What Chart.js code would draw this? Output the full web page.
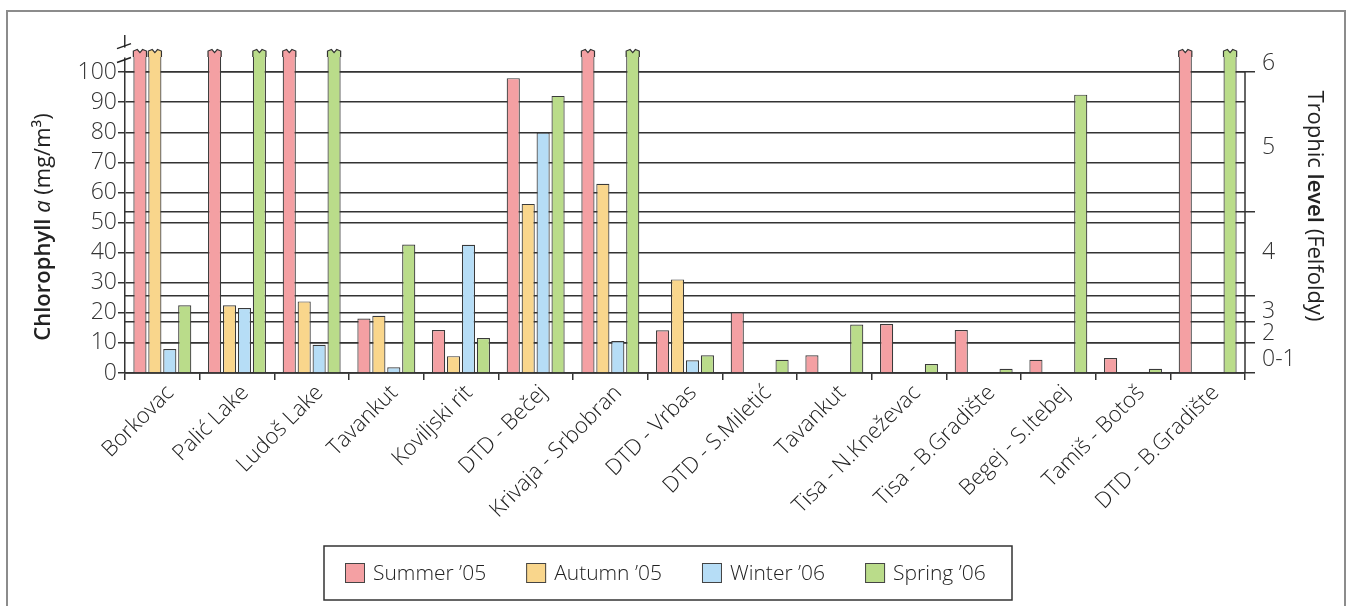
<!DOCTYPE html>
<html>
<head>
<meta charset="utf-8">
<script src="https://cdn.jsdelivr.net/npm/chart.js@4"></script>
<style>
  html, body { margin: 0; padding: 0; background: #fff; }
  #wrap { width: 1348px; height: 606px; position: relative; }
</style>
</head>
<body>
<div id="wrap"><canvas id="chartChl"></canvas></div>
<script>
// off-scale bars (drawn broken at the top)
const BRK = 107;

const sites = ['Borkovac', 'Palić Lake', 'Ludoš Lake', 'Tavankut', 'Koviljski rit', 'DTD - Bečej',
  'Krivaja - Srbobran', 'DTD - Vrbas', 'DTD - S.Miletić', 'Tavankut', 'Tisa - N.Kneževac',
  'Tisa - B.Gradište', 'Begej - S.Itebej', 'Tamiš - Botoš', 'DTD - B.Gradište'];

const summer05 = [BRK, BRK, BRK, 18.1, 14.3, 98.0, BRK, 14.2, 20.2, 5.9, 16.3, 14.3, 4.4, 5.0, BRK];
const autumn05 = [BRK, 22.5, 23.8, 19.0, 5.6, 56.2, 62.9, 31.1, null, null, null, null, null, null, null];
const winter06 = [8.0, 21.6, 9.4, 1.9, 42.6, 79.9, 10.6, 4.2, null, null, null, null, null, null, null];
const spring06 = [22.5, BRK, BRK, 42.7, 11.6, 92.1, BRK, 5.9, 4.4, 16.1, 3.0, 1.4, 92.5, 1.4, BRK];

const chlTicks = [0, 10, 20, 30, 40, 50, 60, 70, 80, 90, 100];
// trophic level boundaries (in chlorophyll units) and their labels
const trophicBounds = [0, 10, 17, 25.8, 53.7, 100];
const trophicLabels = ['0-1', '2', '3', '4', '5', '6'];
const trophicLabelAt = [4.6, 13.3, 20.5, 40, 75, 103];

const FONT = "'Open Sans', 'Noto Sans', sans-serif";
const INK = '#333';

function drawRich(ctx, parts, cx, cy, angle){
  ctx.save();
  ctx.translate(cx, cy);
  ctx.rotate(angle);
  ctx.textBaseline = 'middle';
  ctx.textAlign = 'left';
  let total = 0;
  parts.forEach(p => { ctx.font = p.f; p.w = ctx.measureText(p.t).width; total += p.w; });
  let x = -total / 2;
  parts.forEach(p => { ctx.font = p.f; ctx.fillStyle = '#222'; ctx.fillText(p.t, x, 0); x += p.w; });
  ctx.restore();
}

function zigzagPath(ctx, L, R, t){
  ctx.beginPath();
  ctx.moveTo(L, t + 6);
  ctx.lineTo(L, t);
  ctx.lineTo(L + (R - L) * 0.3, t - 1.5);
  ctx.lineTo(L + (R - L) * 0.5, t + 1.5);
  ctx.lineTo(L + (R - L) * 0.7, t - 1.5);
  ctx.lineTo(R, t);
  ctx.lineTo(R, t + 6);
}

const decor = {
  id: 'decor',
  afterDatasetsDraw(chart){
    const ctx = chart.ctx;
    chart.data.datasets.forEach((ds, i) => {
      const meta = chart.getDatasetMeta(i);
      meta.data.forEach((bar, j) => {
        if(ds.data[j] === null || ds.data[j] < BRK) return;
        const L = bar.x - bar.width / 2, R = bar.x + bar.width / 2, t = bar.y;
        ctx.save();
        ctx.fillStyle = '#fff';
        ctx.fillRect(L - 1, t - 3, R - L + 2, 5);
        zigzagPath(ctx, L, R, t);
        ctx.closePath();
        ctx.fillStyle = ds.backgroundColor;
        ctx.fill();
        zigzagPath(ctx, L, R, t);
        ctx.strokeStyle = '#333';
        ctx.lineWidth = 1.2;
        ctx.stroke();
        ctx.restore();
      });
    });
  },
  afterDraw(chart){
    const ctx = chart.ctx, a = chart.chartArea, y = chart.scales.y, y2 = chart.scales.y2;
    ctx.save();
    // outer frame
    ctx.strokeStyle = '#8c8c8c';
    ctx.lineWidth = 2;
    ctx.beginPath();
    ctx.moveTo(7, 606); ctx.lineTo(7, 11); ctx.lineTo(1345, 11); ctx.lineTo(1345, 606);
    ctx.stroke();

    // right axis line (up to 100 only)
    ctx.strokeStyle = INK;
    ctx.lineWidth = 1.5;
    ctx.beginPath();
    ctx.moveTo(a.right, y.getPixelForValue(100));
    ctx.lineTo(a.right, y.getPixelForValue(0));
    ctx.stroke();

    // axis break on left axis
    const b1 = y.getPixelForValue(108.8), b2 = y.getPixelForValue(104.2);
    ctx.fillStyle = '#fff';
    ctx.fillRect(a.left - 2, b1 + 2, 4, b2 - b1 - 4);
    ctx.beginPath();
    ctx.moveTo(a.left - 8, b1 + 3); ctx.lineTo(a.left + 6, b1 - 2);
    ctx.moveTo(a.left - 8, b2 + 3); ctx.lineTo(a.left + 6, b2 - 2);
    ctx.strokeStyle = '#222';
    ctx.lineWidth = 1.5;
    ctx.stroke();

    // trophic labels
    ctx.font = '300 23px ' + FONT;
    ctx.fillStyle = INK;
    ctx.textAlign = 'left';
    ctx.textBaseline = 'middle';
    trophicLabels.forEach((lab, i) => {
      ctx.fillText(lab, a.right + 17, y2.getPixelForValue(trophicLabelAt[i]));
    });

    // axis titles
    drawRich(ctx, [
      { t: 'Chlorophyll ', f: '600 22px ' + FONT },
      { t: 'a', f: 'italic 22px ' + FONT },
      { t: ' (mg/m³)', f: '22px ' + FONT }
    ], 44, 227, -Math.PI / 2);
    drawRich(ctx, [
      { t: 'Trophic ', f: '22px ' + FONT },
      { t: 'level', f: '600 22px ' + FONT },
      { t: ' (Felfoldy)', f: '22px ' + FONT }
    ], 1314, 206, Math.PI / 2);

    // legend box
    ctx.strokeStyle = INK;
    ctx.lineWidth = 1.5;
    ctx.strokeRect(324, 546, 688, 54);
    ctx.font = '300 21px ' + FONT;
    let lx = 345;
    chart.data.datasets.forEach(ds => {
      ctx.fillStyle = ds.backgroundColor;
      ctx.fillRect(lx, 563, 20, 20);
      ctx.strokeStyle = '#444';
      ctx.lineWidth = 1;
      ctx.strokeRect(lx + 0.5, 563.5, 19, 19);
      ctx.fillStyle = '#222';
      ctx.fillText(ds.label, lx + 28, 574);
      lx += 28 + ctx.measureText(ds.label).width + 40;
    });
    ctx.restore();
  }
};

function series(label, data, color){
  return { label: label, data: data, backgroundColor: color, borderColor: '#3a3a3a', borderWidth: 1.2,
    categoryPercentage: 0.8, barPercentage: 0.88 };
}

const ctx = document.getElementById('chartChl').getContext('2d');
new Chart(ctx, {
  type: 'bar',
  data: {
    labels: sites,
    datasets: [
      series('Summer ’05', summer05, '#f4a0a3'),
      series('Autumn ’05', autumn05, '#f9d68c'),
      series('Winter ’06', winter06, '#b6ddf6'),
      series('Spring ’06', spring06, '#badc8a')
    ]
  },
  options: {
    responsive: true,
    maintainAspectRatio: false,
    animation: false,
    layout: { padding: { top: 36, left: 0, right: 0, bottom: 0 } },
    plugins: { legend: { display: false }, tooltip: { enabled: false } },
    scales: {
      x: {
        grid: { offset: true, drawOnChartArea: false, tickLength: 7, color: INK, lineWidth: 1.5 },
        border: { color: INK, width: 1.5 },
        ticks: { maxRotation: 45, minRotation: 45, autoSkip: false, padding: 0, labelOffset: 8,
          font: { family: FONT, size: 22, weight: '300' }, color: '#222' },
        afterFit: s => { s.height = 233; }
      },
      y: {
        min: 0, max: 112,
        afterBuildTicks: s => { s.ticks = chlTicks.map(v => ({ value: v })); },
        grid: { color: INK, lineWidth: 1.5, tickLength: 7 },
        border: { color: INK, width: 1.5 },
        ticks: { padding: 1, font: { family: FONT, size: 23, weight: '300' }, color: INK },
        afterFit: s => { s.width = 125; }
      },
      y2: {
        position: 'right',
        min: 0, max: 112,
        afterBuildTicks: s => { s.ticks = trophicBounds.map(v => ({ value: v })); },
        grid: { color: INK, lineWidth: 1.5, tickLength: 10 },
        border: { display: false },
        ticks: { callback: () => '', padding: 0 },
        afterFit: s => { s.width = 103; }
      }
    }
  },
  plugins: [decor]
});
</script>
</body>
</html>
